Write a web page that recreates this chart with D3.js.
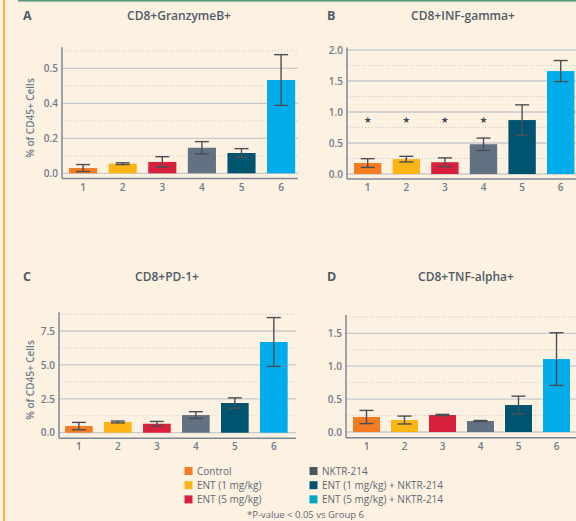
<!DOCTYPE html>
<html>
<head>
<meta charset="utf-8">
<script src="https://cdn.jsdelivr.net/npm/d3@7"></script>
<style>
  html, body { margin: 0; padding: 0; background: #fdf1e2; }
  svg { display: block; font-family: 'Open Sans', sans-serif; }
</style>
</head>
<body>
<script>
/* DATA: group means and error bars */
const groups = ['1', '2', '3', '4', '5', '6'];

const granzymeMean = [0.030, 0.055, 0.065, 0.146, 0.116, 0.533];
const granzymeErr = [0.020, 0.005, 0.030, 0.035, 0.025, 0.145];
const granzymeTicks = [0, 0.2, 0.4, 0.6];
const granzymeTickLabels = ['0.0', '0.2', '0.4', '0.5'];

const ifnMean = [0.177, 0.24, 0.19, 0.48, 0.87, 1.66];
const ifnErr = [0.07, 0.045, 0.07, 0.10, 0.245, 0.17];
const ifnTicks = [0, 0.5, 1.0, 1.5, 2.0];
const ifnStarGroups = ['1', '2', '3', '4'];
const ifnStarLevel = 0.87;

const pd1Mean = [0.49, 0.79, 0.66, 1.30, 2.19, 6.69];
const pd1Err = [0.27, 0.07, 0.17, 0.25, 0.38, 1.80];
const pd1Ticks = [0, 2.5, 5.0, 7.5];

const tnfMean = [0.228, 0.182, 0.258, 0.167, 0.41, 1.109];
const tnfErr = [0.10, 0.06, 0.01, 0.008, 0.135, 0.40];
const tnfTicks = [0, 0.5, 1.0, 1.5];

const legendLabels = ['Control', 'ENT (1 mg/kg)', 'ENT (5 mg/kg)',
  'NKTR-214', 'ENT (1 mg/kg) + NKTR-214', 'ENT (5 mg/kg) + NKTR-214'];
const barColors = ['#f37b22', '#fdb516', '#d81f3b', '#627282', '#00546f', '#00adea'];
const legendColors = ['#f37b22', '#fdb516', '#d81f3b', '#4b5561', '#00546f', '#00a8c2'];

/* LAYOUT */
const width = 576;
const height = 521;
const textColor = '#4f5b67';
const tickColor = '#6f7c8a';
const gridColor = '#c9cacb';

const svg = d3.select('body')
  .append('svg')
  .attr('width', width)
  .attr('height', height);

svg.append('rect')
  .attr('width', width).attr('height', height)
  .attr('fill', '#fdf1e2');

// orange rule on the left, green rule on top
svg.append('rect').attr('x', 3).attr('y', 0).attr('width', 2).attr('height', height).attr('fill', '#f6b443');
svg.append('rect').attr('x', 18).attr('y', 0).attr('width', width - 18).attr('height', 1.6).attr('fill', '#5c9a7c');

const panels = [
  {
    letter: 'A', title: 'CD8+GranzymeB+', letterX: 23, titleX: 179, titleY: 20,
    mean: granzymeMean, err: granzymeErr, ticks: granzymeTicks, tickLabels: granzymeTickLabels,
    axisX: 62, gridEnd: 298, band: [63.1, 301.1], top: 0.72, yRange: [173.3, 47.3], baseY: 178.5,
    yLabel: true, labelY: 118,
  },
  {
    letter: 'B', title: 'CD8+INF-gamma+', letterX: 327, titleX: 463, titleY: 20,
    mean: ifnMean, err: ifnErr, ticks: ifnTicks,
    axisX: 347, gridEnd: 576, band: [348.2, 580.2], top: 2.04, yRange: [174, 47.5], baseY: 179,
    stars: true,
  },
  {
    letter: 'C', title: 'CD8+PD-1+', letterX: 23, titleX: 167, titleY: 281,
    mean: pd1Mean, err: pd1Err, ticks: pd1Ticks,
    axisX: 59, gridEnd: 296, band: [59.2, 293.5], top: 8.88, yRange: [432.7, 312.3], baseY: 438.3,
    yLabel: true, labelY: 380,
  },
  {
    letter: 'D', title: 'CD8+TNF-alpha+', letterX: 327, titleX: 466, titleY: 281,
    mean: tnfMean, err: tnfErr, ticks: tnfTicks,
    axisX: 346, gridEnd: 576, band: [347.3, 575.7], top: 1.78, yRange: [432, 314.9], baseY: 437.7,
  },
];

panels.forEach(p => {
  const g = svg.append('g');

  const xScale = d3.scaleBand()
    .domain(groups)
    .range(p.band)
    .paddingInner(0.29)
    .paddingOuter(0.15);

  const yScale = d3.scaleLinear()
    .domain([0, p.top])
    .range(p.yRange);

  // headings
  g.append('text')
    .attr('x', p.letterX).attr('y', p.titleY)
    .attr('font-size', 12.5).attr('font-weight', 700)
    .attr('fill', textColor)
    .text(p.letter);

  g.append('text')
    .attr('x', p.titleX).attr('y', p.titleY)
    .attr('text-anchor', 'middle')
    .attr('font-size', 12).attr('font-weight', 600)
    .attr('fill', textColor)
    .text(p.title);

  // gridlines: solid on ticks, dotted halfway between
  const step = p.ticks[1] - p.ticks[0];
  const minor = p.ticks.map(t => t + step / 2).filter(t => t <= p.top);

  g.append('g').selectAll('line')
    .data(p.ticks)
    .join('line')
    .attr('x1', p.axisX).attr('x2', p.gridEnd)
    .attr('y1', d => yScale(d)).attr('y2', d => yScale(d))
    .attr('stroke', gridColor).attr('stroke-width', 1.3);

  g.append('g').selectAll('line')
    .data(minor)
    .join('line')
    .attr('x1', p.axisX).attr('x2', p.gridEnd)
    .attr('y1', d => yScale(d)).attr('y2', d => yScale(d))
    .attr('stroke', gridColor).attr('stroke-width', 1)
    .attr('stroke-dasharray', '1 2');

  // y ticks
  const yAxis = d3.axisLeft(yScale)
    .tickValues(p.ticks)
    .tickSize(0)
    .tickPadding(4)
    .tickFormat((d, i) => p.tickLabels ? p.tickLabels[i] : d3.format('.1f')(d));

  const yAxisGroup = g.append('g')
    .attr('transform', `translate(${p.axisX} 0)`)
    .call(yAxis);
  yAxisGroup.select('path').remove();
  yAxisGroup.selectAll('text')
    .attr('font-size', 10).attr('font-weight', 600)
    .attr('fill', tickColor)
    .attr('font-family', "'Open Sans', sans-serif");

  // bars
  g.append('g').selectAll('rect')
    .data(groups)
    .join('rect')
    .attr('x', d => xScale(d))
    .attr('y', (d, i) => yScale(p.mean[i]))
    .attr('width', xScale.bandwidth())
    .attr('height', (d, i) => yScale(0) - yScale(p.mean[i]))
    .attr('fill', (d, i) => barColors[i]);

  // error bars
  const capHalf = 7;
  const errGroup = g.append('g')
    .attr('stroke', '#4a4f55')
    .attr('stroke-width', 1.4);
  groups.forEach((d, i) => {
    const cx = xScale(d) + xScale.bandwidth() / 2;
    const hi = yScale(p.mean[i] + p.err[i]);
    const lo = yScale(Math.max(0, p.mean[i] - p.err[i]));
    errGroup.append('line').attr('x1', cx).attr('x2', cx).attr('y1', hi).attr('y2', lo);
    errGroup.append('line').attr('x1', cx - capHalf).attr('x2', cx + capHalf).attr('y1', hi).attr('y2', hi);
    errGroup.append('line').attr('x1', cx - capHalf).attr('x2', cx + capHalf).attr('y1', lo).attr('y2', lo);
  });

  // significance stars
  if (p.stars) {
    g.append('g').selectAll('text')
      .data(ifnStarGroups)
      .join('text')
      .attr('x', d => xScale(d) + xScale.bandwidth() / 2)
      .attr('y', yScale(ifnStarLevel))
      .attr('dy', '0.35em')
      .attr('text-anchor', 'middle')
      .attr('font-size', 9)
      .attr('font-family', 'DejaVu Sans, sans-serif')
      .attr('fill', '#3f4a55')
      .text('★');
  }

  // axis lines
  g.append('line')
    .attr('x1', p.axisX).attr('x2', p.axisX)
    .attr('y1', yScale(p.top)).attr('y2', p.baseY)
    .attr('stroke', '#7d8894').attr('stroke-width', 1.5);

  g.append('line')
    .attr('x1', p.axisX).attr('x2', p.gridEnd)
    .attr('y1', p.baseY).attr('y2', p.baseY)
    .attr('stroke', '#7d8894').attr('stroke-width', 1.5);

  // x ticks
  const xAxis = d3.axisBottom(xScale).tickSize(0).tickPadding(5);
  const xAxisGroup = g.append('g')
    .attr('transform', `translate(0 ${p.baseY})`)
    .call(xAxis);
  xAxisGroup.select('path').remove();
  xAxisGroup.selectAll('text')
    .attr('font-size', 10).attr('font-weight', 600)
    .attr('fill', tickColor)
    .attr('font-family', "'Open Sans', sans-serif");

  if (p.yLabel) {
    g.append('text')
      .attr('transform', `translate(34 ${p.labelY}) rotate(-90)`)
      .attr('text-anchor', 'middle')
      .attr('font-size', 10).attr('font-weight', 600)
      .attr('fill', tickColor)
      .text('% of CD45+ Cells');
  }
});

/* LEGEND */
const legend = svg.append('g');
legendLabels.forEach((label, i) => {
  const col = Math.floor(i / 3);
  const row = i % 3;
  const x = col === 0 ? 184.5 : 309.5;
  const y = 471 + row * 14.2;
  legend.append('rect')
    .attr('x', x).attr('y', y - 4)
    .attr('width', 8).attr('height', 8)
    .attr('fill', legendColors[i]);
  legend.append('text')
    .attr('x', x + 12.5).attr('y', y)
    .attr('dy', '0.35em')
    .attr('font-size', 10)
    .attr('fill', '#5d6873')
    .text(label);
});

legend.append('text')
  .attr('x', 305.5).attr('y', 515)
  .attr('dy', '0.35em')
  .attr('text-anchor', 'middle')
  .attr('font-size', 9.5)
  .attr('fill', '#5d6873')
  .text('*P-value < 0.05 vs Group 6');
</script>
</body>
</html>
